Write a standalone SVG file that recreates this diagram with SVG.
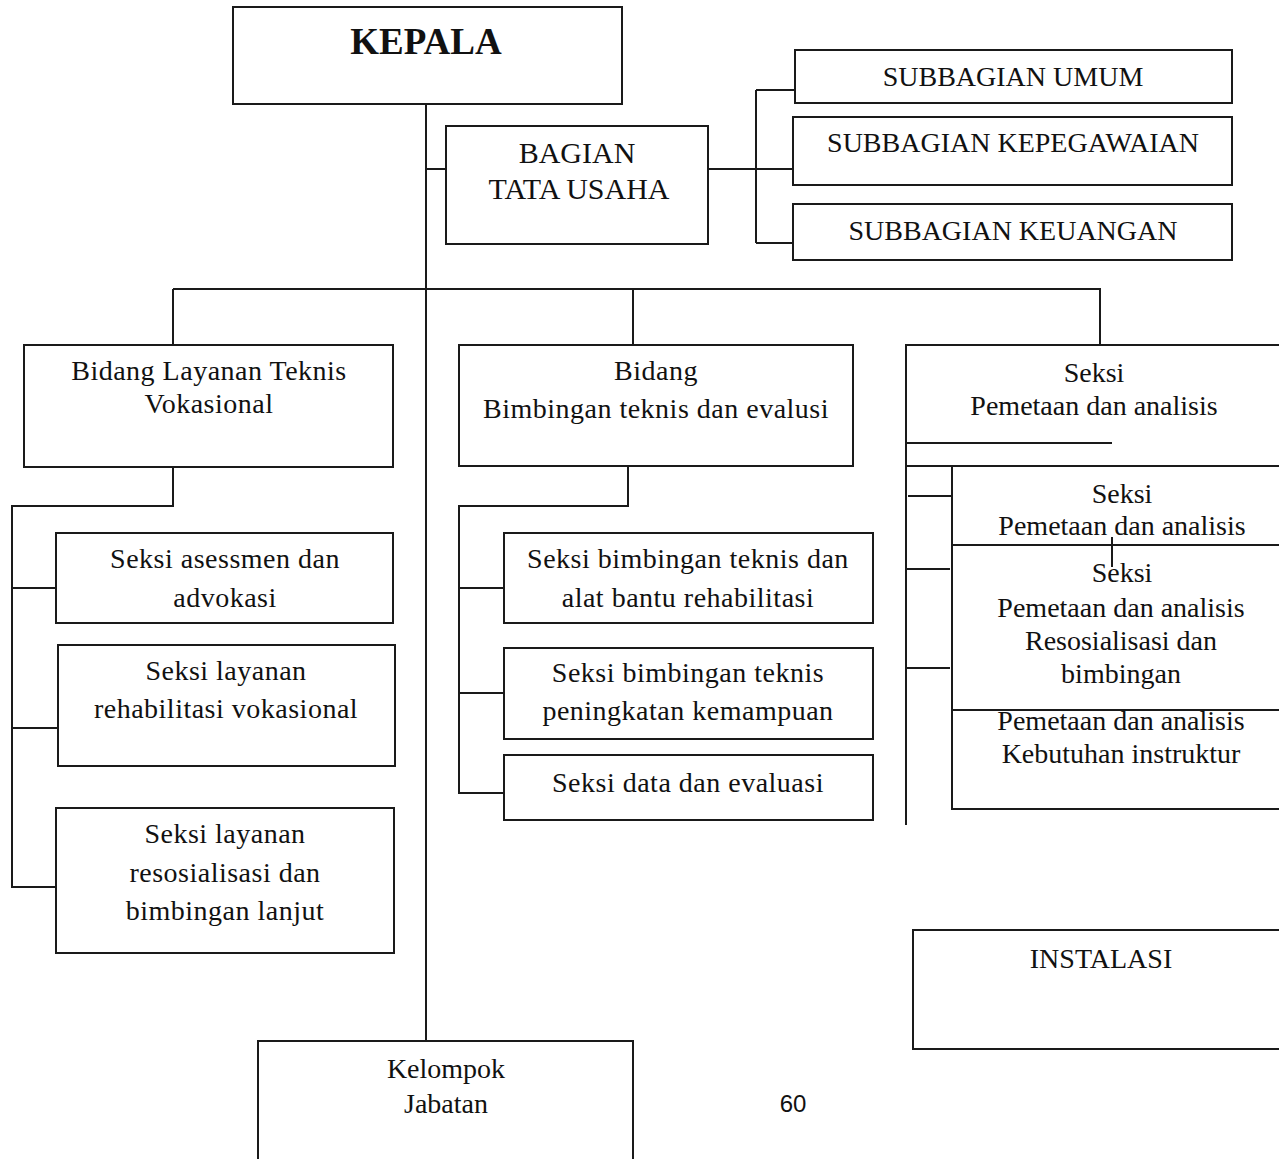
<svg xmlns="http://www.w3.org/2000/svg" width="1279" height="1159" viewBox="0 0 1279 1159">
<style>
  .box{fill:#fff;stroke:#1a1a1a;stroke-width:2}
  .ln{fill:none;stroke:#1a1a1a;stroke-width:2}
  text{font-family:"Liberation Serif","Times New Roman",serif;font-size:28px;fill:#111;text-anchor:middle}
  .g{letter-spacing:0.5px}
  .b{font-weight:bold;font-size:37px}
  .bt{font-size:30px}
  .pg{font-family:"Liberation Sans",Arial,sans-serif;font-size:24px}
</style>
<rect width="1279" height="1159" fill="#fff"/>

<g id="connectors">
  <line class="ln" x1="426" y1="104" x2="426" y2="1041"/>
  <line class="ln" x1="426" y1="169" x2="446" y2="169"/>
  <line class="ln" x1="708" y1="169" x2="793" y2="169"/>
  <line class="ln" x1="756" y1="90" x2="756" y2="243"/>
  <line class="ln" x1="756" y1="90" x2="795" y2="90"/>
  <line class="ln" x1="756" y1="243" x2="793" y2="243"/>
  <line class="ln" x1="173" y1="289" x2="1101" y2="289"/>
  <line class="ln" x1="173" y1="289" x2="173" y2="345"/>
  <line class="ln" x1="633" y1="289" x2="633" y2="345"/>
  <line class="ln" x1="1100" y1="289" x2="1100" y2="345"/>
  <polyline class="ln" points="173,467 173,506 12,506 12,887 56,887"/>
  <line class="ln" x1="12" y1="588" x2="56" y2="588"/>
  <line class="ln" x1="12" y1="728" x2="58" y2="728"/>
  <polyline class="ln" points="628,466 628,506 459,506 459,793 504,793"/>
  <line class="ln" x1="459" y1="588" x2="504" y2="588"/>
  <line class="ln" x1="459" y1="693" x2="504" y2="693"/>
  <line class="ln" x1="906" y1="443" x2="906" y2="825"/>
  <line class="ln" x1="906" y1="466" x2="952" y2="466"/>
  <line class="ln" x1="908" y1="496" x2="952" y2="496"/>
  <line class="ln" x1="906" y1="569" x2="950" y2="569"/>
  <line class="ln" x1="906" y1="668" x2="950" y2="668"/>
  <line class="ln" x1="1112" y1="537" x2="1112" y2="567"/>
</g>

<g id="kepala">
  <rect class="box" x="233" y="7" width="389" height="97"/>
  <text class="b" x="426" y="54">KEPALA</text>
</g>

<g id="bagian-tata-usaha">
  <rect class="box" x="446" y="126" width="262" height="118"/>
  <text class="bt" x="577" y="163">BAGIAN</text>
  <text class="bt" x="579" y="199">TATA USAHA</text>
</g>

<g id="subbagian-umum">
  <rect class="box" x="795" y="50" width="437" height="53"/>
  <text x="1013" y="86">SUBBAGIAN UMUM</text>
</g>
<g id="subbagian-kepegawaian">
  <rect class="box" x="793" y="117" width="439" height="68"/>
  <text x="1013" y="152">SUBBAGIAN KEPEGAWAIAN</text>
</g>
<g id="subbagian-keuangan">
  <rect class="box" x="793" y="204" width="439" height="56"/>
  <text x="1013" y="240">SUBBAGIAN KEUANGAN</text>
</g>

<g id="bidang-layanan">
  <rect class="box" x="24" y="345" width="369" height="122"/>
  <text class="g" x="209" y="380">Bidang Layanan Teknis</text>
  <text class="g" x="209" y="413">Vokasional</text>
</g>
<g id="seksi-asessmen">
  <rect class="box" x="56" y="533" width="337" height="90"/>
  <text class="g" x="225" y="568">Seksi asessmen dan</text>
  <text class="g" x="225" y="607">advokasi</text>
</g>
<g id="seksi-layanan-rehab">
  <rect class="box" x="58" y="645" width="337" height="121"/>
  <text class="g" x="226" y="680">Seksi layanan</text>
  <text class="g" x="226" y="718">rehabilitasi vokasional</text>
</g>
<g id="seksi-layanan-resos">
  <rect class="box" x="56" y="808" width="338" height="145"/>
  <text class="g" x="225" y="843">Seksi layanan</text>
  <text class="g" x="225" y="882">resosialisasi dan</text>
  <text class="g" x="225" y="920">bimbingan lanjut</text>
</g>

<g id="bidang-bimbingan">
  <rect class="box" x="459" y="345" width="394" height="121"/>
  <text class="g" x="656" y="380">Bidang</text>
  <text class="g" x="656" y="418">Bimbingan teknis dan evalusi</text>
</g>
<g id="seksi-bimtek-alat">
  <rect class="box" x="504" y="533" width="369" height="90"/>
  <text class="g" x="688" y="568">Seksi bimbingan teknis dan</text>
  <text class="g" x="688" y="607">alat bantu rehabilitasi</text>
</g>
<g id="seksi-bimtek-kemampuan">
  <rect class="box" x="504" y="648" width="369" height="91"/>
  <text class="g" x="688" y="682">Seksi bimbingan teknis</text>
  <text class="g" x="688" y="720">peningkatan kemampuan</text>
</g>
<g id="seksi-data">
  <rect class="box" x="504" y="755" width="369" height="65"/>
  <text class="g" x="688" y="792">Seksi data dan evaluasi</text>
</g>

<g id="seksi-pemetaan">
  <path class="ln" d="M1290,345 H906 V443"/>
  <line class="ln" x1="906" y1="443" x2="1112" y2="443"/>
  <text x="1094" y="382">Seksi</text>
  <text x="1094" y="415">Pemetaan dan analisis</text>
</g>
<g id="seksi-pemetaan-2">
  <path class="ln" d="M1290,466 H952 V545 H1290"/>
  <text x="1122" y="503">Seksi</text>
  <text x="1122" y="535">Pemetaan dan analisis</text>
</g>
<g id="seksi-pemetaan-3">
  <path class="ln" d="M952,545 V710 H1290"/>
  <text x="1122" y="582">Seksi</text>
  <text x="1121" y="617">Pemetaan dan analisis</text>
  <text x="1121" y="650">Resosialisasi dan</text>
  <text x="1121" y="683">bimbingan</text>
</g>
<g id="seksi-pemetaan-4">
  <path class="ln" d="M952,710 V809 H1290"/>
  <text x="1121" y="730">Pemetaan dan analisis</text>
  <text x="1121" y="763">Kebutuhan instruktur</text>
</g>

<g id="instalasi">
  <path class="ln" d="M1290,930 H913 V1049 H1290"/>
  <text x="1101" y="968">INSTALASI</text>
</g>

<g id="kelompok-jabatan">
  <path class="ln" d="M258,1165 V1041 H633 V1165"/>
  <text x="446" y="1078">Kelompok</text>
  <text x="446" y="1113">Jabatan</text>
</g>

<text class="pg" x="793" y="1112">60</text>
</svg>
